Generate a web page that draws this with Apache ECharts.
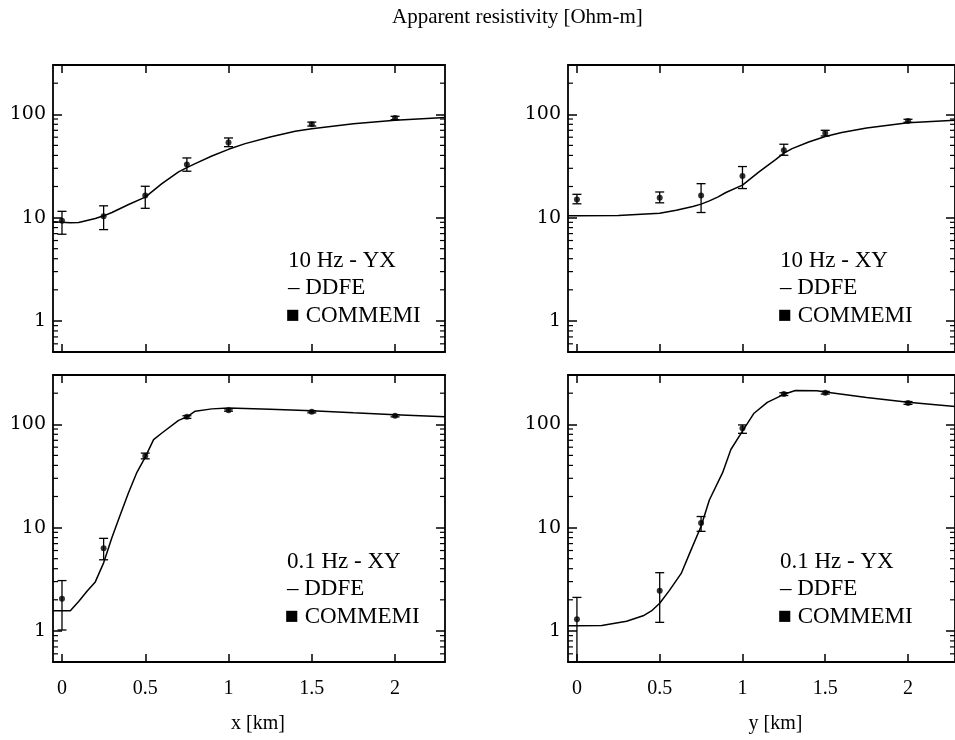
<!DOCTYPE html>
<html>
<head>
<meta charset="utf-8">
<script src="https://cdn.jsdelivr.net/npm/echarts@6/dist/echarts.min.js"></script>
<style>html,body{margin:0;padding:0;background:#fff;}#c{width:955px;height:740px;}</style>
</head>
<body>
<div id="c"></div>
<script>
// ---------- tick labels ----------
const xTicks = [0, 0.5, 1, 1.5, 2];
const yMajor = [1, 10, 100];
const yMinor = [0.6, 0.7, 0.8, 0.9, 2, 3, 4, 5, 6, 7, 8, 9, 20, 30, 40, 50, 60, 70, 80, 90, 200];

// ---------- Panel 1: 10 Hz - YX (x [km]) ----------
const p1CurveX = [-0.054, 0.05, 0.1, 0.2, 0.25, 0.3, 0.4, 0.5, 0.6, 0.7, 0.75, 0.8, 0.9, 1.0, 1.1, 1.25, 1.4, 1.5, 1.75, 2.0, 2.3];
const p1CurveY = [9.1, 8.9, 8.95, 9.8, 10.4, 11.2, 13.4, 15.8, 21.3, 27.7, 30.5, 33.3, 39.5, 45.8, 52, 60.4, 68.4, 72.6, 81.2, 87.5, 93];
const p1PtX = [0, 0.25, 0.5, 0.75, 1.0, 1.5, 2.0];
const p1PtY = [9.3, 10.3, 16.4, 32.6, 53.2, 80, 92.2];
const p1Lo = [6.9, 7.65, 12.3, 28.1, 48.6, 77, 88.8];
const p1Hi = [11.5, 13.0, 20.1, 37.8, 59, 84, 95.6];

// ---------- Panel 2: 10 Hz - XY (y [km]) ----------
const p2CurveX = [-0.054, 0, 0.25, 0.5, 0.6, 0.7, 0.75, 0.8, 0.85, 0.9, 1.0, 1.1, 1.2, 1.25, 1.3, 1.4, 1.5, 1.6, 1.75, 2.0, 2.3];
const p2CurveY = [10.4, 10.4, 10.5, 11.0, 11.8, 12.8, 13.5, 14.5, 15.8, 17.5, 20.6, 27.7, 36.4, 42, 46.5, 54, 61, 66.5, 73.5, 83, 88];
const p2PtX = [0, 0.5, 0.75, 1.0, 1.25, 1.5, 2.0];
const p2PtY = [15.0, 15.6, 16.4, 25.3, 44.8, 66, 86];
const p2Lo = [13.6, 13.9, 11.2, 19.1, 40.1, 61.7, 83.7];
const p2Hi = [16.8, 17.7, 21.3, 31.2, 51.3, 70, 89.5];

// ---------- Panel 3: 0.1 Hz - XY (x [km]) ----------
const p3CurveX = [-0.054, 0.05, 0.1, 0.15, 0.2, 0.25, 0.3, 0.35, 0.4, 0.45, 0.5, 0.55, 0.6, 0.7, 0.75, 0.8, 0.9, 1.0, 1.25, 1.5, 1.75, 2.0, 2.3];
const p3CurveY = [1.57, 1.57, 1.93, 2.42, 2.98, 4.56, 8.0, 13.3, 21.9, 34.3, 48.1, 71, 82.4, 109, 118, 134, 141, 144, 140, 135, 129, 124, 118];
const p3PtX = [0, 0.25, 0.5, 0.75, 1.0, 1.5, 2.0];
const p3PtY = [2.05, 6.3, 49.2, 118, 137, 132, 121];
const p3Lo = [1.02, 4.88, 46.3, 114, 134, 129, 118];
const p3Hi = [3.07, 7.87, 52.6, 121, 141, 135, 124];

// ---------- Panel 4: 0.1 Hz - YX (y [km]) ----------
const p4CurveX = [-0.054, 0, 0.15, 0.3, 0.4, 0.45, 0.5, 0.56, 0.63, 0.68, 0.75, 0.8, 0.88, 0.93, 1.0, 1.07, 1.15, 1.25, 1.32, 1.45, 1.5, 1.75, 2.0, 2.3];
const p4CurveY = [1.12, 1.12, 1.13, 1.24, 1.4, 1.56, 1.85, 2.48, 3.6, 5.6, 10.3, 18.5, 34, 57, 86, 128, 163, 195, 212, 211, 205, 182, 163, 148];
const p4PtX = [0, 0.5, 0.75, 1.0, 1.25, 1.5, 2.0];
const p4PtY = [1.30, 2.45, 11.1, 91.4, 196, 202, 161];
const p4Lo = [0.3, 1.21, 9.2, 81.8, 190, 196, 156];
const p4Hi = [2.11, 3.66, 12.8, 98.6, 202, 208, 166];

const panelLabels = ['10 Hz - YX', '10 Hz - XY', '0.1 Hz - XY', '0.1 Hz - YX'];
const lineLabel = '\u2013 DDFE';
const pointLabel = '\u25A0 COMMEMI';
const titleText = 'Apparent resistivity [Ohm-m]';
const xNames = ['x [km]', 'y [km]'];

// ---------- layout ----------
const SERIF = '"Liberation Serif", "DejaVu Serif", serif';
const grids = [
  {left: 53, top: 65, width: 392, height: 287},
  {left: 568, top: 65, width: 387, height: 287},
  {left: 53, top: 375, width: 392, height: 287},
  {left: 568, top: 375, width: 387, height: 287}
];
const xRanges = [[-0.054, 2.30], [-0.054, 2.284], [-0.054, 2.30], [-0.054, 2.284]];
const yMin = 0.5, yMax = 300;
const legendOffsets = [[235, 184], [212, 184], [234, 175], [212, 175]];
const namePad = [[0, 0, 0, 18], [0, 0, 0, 28]];

const panels = [
  [p1CurveX, p1CurveY, p1PtX, p1PtY, p1Lo, p1Hi],
  [p2CurveX, p2CurveY, p2PtX, p2PtY, p2Lo, p2Hi],
  [p3CurveX, p3CurveY, p3PtX, p3PtY, p3Lo, p3Hi],
  [p4CurveX, p4CurveY, p4PtX, p4PtY, p4Lo, p4Hi]
];

const xAxis = [], yAxis = [], series = [], graphic = [];
const lineStyleAx = {color: '#000', width: 1.8};

grids.forEach((g, i) => {
  const bottomRow = i >= 2;
  xAxis.push({
    type: 'value', gridIndex: i, position: 'bottom', min: xRanges[i][0], max: xRanges[i][1],
    axisLine: {show: true, onZero: false, lineStyle: lineStyleAx},
    axisTick: {show: true, inside: true, length: 8, customValues: xTicks, lineStyle: {color: '#000', width: 1.5}},
    axisLabel: {show: bottomRow, customValues: xTicks, margin: 17, color: '#000', fontFamily: SERIF, fontSize: 20},
    splitLine: {show: false},
    name: bottomRow ? xNames[i % 2] : '', nameLocation: 'middle', nameGap: 52,
    nameTextStyle: {color: '#000', fontFamily: SERIF, fontSize: 20, padding: namePad[i % 2]}
  });
  xAxis.push({
    type: 'value', gridIndex: i, position: 'top', min: xRanges[i][0], max: xRanges[i][1],
    axisLine: {show: true, onZero: false, lineStyle: lineStyleAx},
    axisTick: {show: true, inside: true, length: 8, customValues: xTicks, lineStyle: {color: '#000', width: 1.5}},
    axisLabel: {show: false}, splitLine: {show: false}
  });
  yAxis.push({
    type: 'log', logBase: 10, gridIndex: i, position: 'left', min: yMin, max: yMax,
    axisLine: {show: true, onZero: false, lineStyle: lineStyleAx},
    axisTick: {show: true, inside: true, length: 9, customValues: yMajor, lineStyle: {color: '#000', width: 1.5}},
    axisLabel: {show: true, customValues: yMajor, margin: 7, color: '#000', fontFamily: '"DejaVu Serif", serif', fontSize: 19},
    splitLine: {show: false}
  });
  yAxis.push({
    type: 'log', logBase: 10, gridIndex: i, position: 'right', min: yMin, max: yMax,
    axisLine: {show: true, onZero: false, lineStyle: lineStyleAx},
    axisTick: {show: true, inside: true, length: 9, customValues: yMajor, lineStyle: {color: '#000', width: 1.5}},
    axisLabel: {show: false}, splitLine: {show: false}
  });

  const [cx, cy, px, py, lo, hi] = panels[i];
  const xr0 = xRanges[i][0];
  // minor log ticks on both sides
  series.push({
    type: 'custom', name: 'minorTicks', xAxisIndex: 2 * i, yAxisIndex: 2 * i, clip: false,
    data: yMinor.map(v => [xr0, v]), encode: {x: 0, y: 1},
    renderItem: function (params, api) {
      const cs = params.coordSys;
      const p = api.coord([api.value(0), api.value(1)]);
      const st = {stroke: '#000', lineWidth: 1.2};
      return {type: 'group', children: [
        {type: 'line', shape: {x1: cs.x, y1: p[1], x2: cs.x + 5, y2: p[1]}, style: st},
        {type: 'line', shape: {x1: cs.x + cs.width - 5, y1: p[1], x2: cs.x + cs.width, y2: p[1]}, style: st}
      ]};
    },
    animation: false, silent: true
  });
  series.push({
    type: 'line', name: 'DDFE', xAxisIndex: 2 * i, yAxisIndex: 2 * i,
    data: cx.map((v, k) => [v, cy[k]]), showSymbol: false, symbol: 'none',
    lineStyle: {color: '#000', width: 1.5}, clip: true, silent: true, animation: false
  });
  series.push({
    type: 'custom', name: 'err', xAxisIndex: 2 * i, yAxisIndex: 2 * i, clip: true,
    data: px.map((v, k) => [v, lo[k], hi[k]]),
    encode: {x: 0, y: [1, 2]},
    renderItem: function (params, api) {
      const x = api.value(0), l = api.value(1), h = api.value(2);
      const a = api.coord([x, l]), b = api.coord([x, h]);
      const w = 4.5;
      const st = {stroke: '#000', lineWidth: 1.3};
      return {type: 'group', children: [
        {type: 'line', shape: {x1: a[0], y1: a[1], x2: b[0], y2: b[1]}, style: st},
        {type: 'line', shape: {x1: a[0] - w, y1: a[1], x2: a[0] + w, y2: a[1]}, style: st},
        {type: 'line', shape: {x1: b[0] - w, y1: b[1], x2: b[0] + w, y2: b[1]}, style: st}
      ]};
    },
    animation: false, silent: true
  });
  series.push({
    type: 'scatter', name: 'COMMEMI', xAxisIndex: 2 * i, yAxisIndex: 2 * i,
    data: px.map((v, k) => [v, py[k]]), symbol: 'circle', symbolSize: 6,
    itemStyle: {color: '#000'}, animation: false, silent: true
  });

  const lx = g.left + legendOffsets[i][0];
  const ly = g.top + legendOffsets[i][1];
  const f = '23px ' + SERIF;
  graphic.push({type: 'text', left: lx, top: ly, style: {text: panelLabels[i], fill: '#000', font: f}});
  graphic.push({type: 'text', left: lx, top: ly + 27, style: {text: lineLabel, fill: '#000', font: f}});
  graphic.push({type: 'text', left: lx - 2, top: ly + 55, style: {text: pointLabel, fill: '#000', font: f}});
});

graphic.push({type: 'text', left: 392, top: 7, style: {text: titleText, fill: '#000', font: '21px ' + SERIF}});

const chart = echarts.init(document.getElementById('c'), null, {renderer: 'canvas'});
chart.setOption({
  backgroundColor: '#fff',
  animation: false,
  grid: grids.map(g => Object.assign({containLabel: false, show: false}, g)),
  xAxis, yAxis, series, graphic
});
</script>
</body>
</html>
